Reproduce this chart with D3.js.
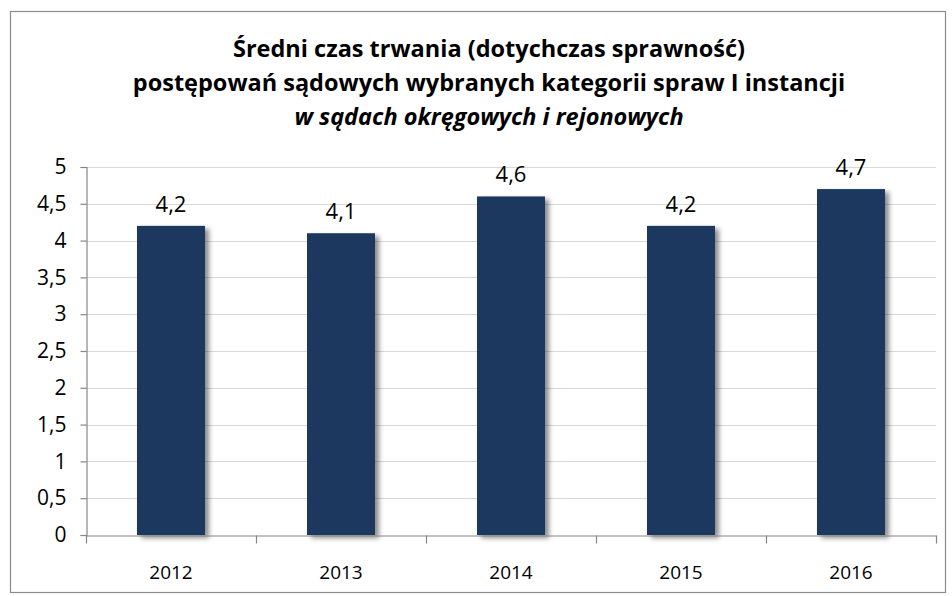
<!DOCTYPE html>
<html>
<head>
<meta charset="utf-8">
<script src="https://cdn.jsdelivr.net/npm/d3@7"></script>
<style>
  body { margin: 0; background: #fff; }
  svg { font-family: "Open Sans", "DejaVu Sans", sans-serif; }
</style>
</head>
<body>
<div id="app"></div>
<script>
const years = ["2012", "2013", "2014", "2015", "2016"];
const values = [4.2, 4.1, 4.6, 4.2, 4.7];
const yTicks = [0, 0.5, 1, 1.5, 2, 2.5, 3, 3.5, 4, 4.5, 5];
const titleLines = [
  "Średni czas trwania (dotychczas sprawność)",
  "postępowań sądowych wybranych kategorii spraw I instancji",
  "w sądach okręgowych i rejonowych"
];

const width = 952;
const height = 596;
const plotLeft = 86, plotRight = 936, plotTop = 167, plotBottom = 535;
const comma = d => String(d).replace(".", ",");

const svg = d3.select("#app").append("svg")
  .attr("width", width)
  .attr("height", height);

// drop shadow for bars
const filter = svg.append("defs").append("filter")
  .attr("id", "shadow")
  .attr("x", "-20%").attr("y", "-20%")
  .attr("width", "150%").attr("height", "150%");
filter.append("feDropShadow")
  .attr("dx", 4).attr("dy", 3)
  .attr("stdDeviation", 2.5)
  .attr("flood-color", "#000")
  .attr("flood-opacity", 0.45);

svg.append("rect")
  .attr("x", 10.5).attr("y", 11.5)
  .attr("width", 935).attr("height", 581)
  .attr("fill", "#fff")
  .attr("stroke", "#8c8c8c")
  .attr("stroke-width", 1.2);

const x = d3.scaleBand().domain(years).range([plotLeft, plotRight]).paddingInner(0).paddingOuter(0);
const y = d3.scaleLinear().domain([0, 5]).range([plotBottom, plotTop]);

// gridlines
svg.append("g")
  .selectAll("line")
  .data(yTicks.filter(d => d > 0))
  .join("line")
  .attr("x1", plotLeft).attr("x2", plotRight)
  .attr("y1", d => Math.round(y(d)) + 0.5)
  .attr("y2", d => Math.round(y(d)) + 0.5)
  .attr("stroke", "#d9d9d9")
  .attr("stroke-width", 1.2);

// bars
const barW = x.bandwidth() * 0.4;
svg.append("g")
  .selectAll("rect")
  .data(values)
  .join("rect")
  .attr("x", (d, i) => x(years[i]) + (x.bandwidth() - barW) / 2)
  .attr("y", d => y(d))
  .attr("width", barW)
  .attr("height", d => y(0) - y(d))
  .attr("fill", "#1a375e")
  .attr("filter", "url(#shadow)");

// value labels
svg.append("g")
  .selectAll("text")
  .data(values)
  .join("text")
  .attr("x", (d, i) => x(years[i]) + x.bandwidth() / 2)
  .attr("y", d => y(d) - 14)
  .attr("text-anchor", "middle")
  .attr("font-size", 22)
  .attr("fill", "#000")
  .text(d => comma(d));

// y axis
const yAxis = svg.append("g")
  .attr("transform", `translate(${plotLeft + 0.5},0)`)
  .call(d3.axisLeft(y).tickValues(yTicks).tickSize(6).tickPadding(14).tickFormat(comma));
yAxis.select(".domain").attr("stroke", "#868686").attr("stroke-width", 1.2);
yAxis.selectAll(".tick line").attr("stroke", "#868686").attr("stroke-width", 1.2);
yAxis.selectAll("text").attr("font-size", 21).attr("fill", "#000")
  .attr("font-family", "\"Open Sans\", sans-serif");

// x axis
const xAxis = svg.append("g")
  .attr("transform", `translate(0,${plotBottom + 0.5})`)
  .call(d3.axisBottom(x).tickSize(0).tickPadding(30));
xAxis.select(".domain").attr("stroke", "#868686").attr("stroke-width", 1.2);
xAxis.selectAll("text").attr("font-size", 19).attr("fill", "#000")
  .attr("font-family", "\"Open Sans\", sans-serif");
// category boundary ticks
xAxis.append("g")
  .selectAll("line")
  .data(years.map(d => x(d)).concat([plotRight]))
  .join("line")
  .attr("x1", d => Math.round(d) + 0.5)
  .attr("x2", d => Math.round(d) + 0.5)
  .attr("y1", 0).attr("y2", 8)
  .attr("stroke", "#868686")
  .attr("stroke-width", 1.2);

// title
const title = svg.append("text")
  .attr("text-anchor", "middle")
  .attr("font-weight", "bold")
  .attr("font-size", 23.5)
  .attr("fill", "#000");
titleLines.forEach((line, i) => {
  title.append("tspan")
    .attr("x", 489)
    .attr("y", 57 + i * 34)
    .attr("font-style", i === 2 ? "italic" : "normal")
    .text(line);
});
</script>
</body>
</html>
